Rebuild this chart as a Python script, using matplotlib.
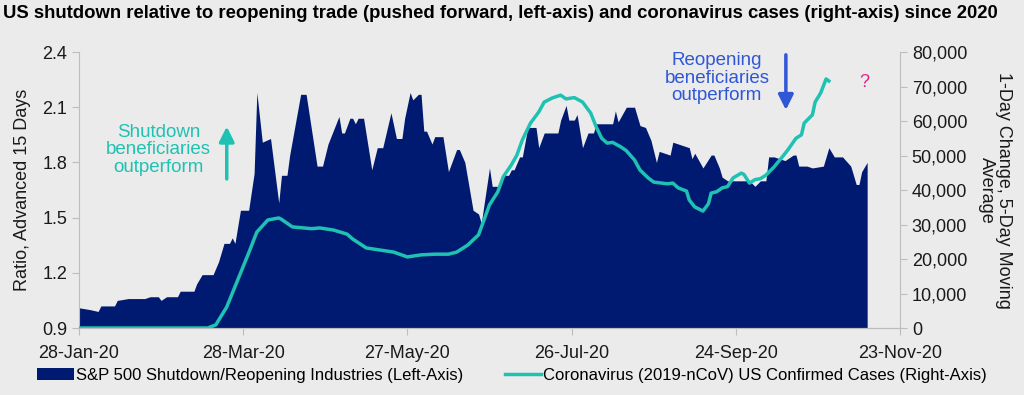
"""US shutdown vs reopening trade and coronavirus cases chart."""

import matplotlib
matplotlib.use("Agg")
import matplotlib.pyplot as plt
import matplotlib.ticker as mticker
import numpy as np
import pandas as pd

plt.rcParams["font.family"] = ["Liberation Sans", "DejaVu Sans"]

START = pd.Timestamp("2020-01-28")

# S&P 500 shutdown/reopening ratio (left axis), days since 28-Jan-20
ratio_day = [0, 4, 7, 8, 13, 14, 18, 24, 26, 29, 30, 32, 36, 37, 42, 43, 45, 49,
             51, 53, 55, 56, 57, 59, 62, 64, 65, 67, 70, 73, 74, 76, 77, 81, 83,
             87, 89, 91, 95, 96, 97, 99, 100, 101, 102, 104, 107, 109, 111, 114,
             116, 118, 119, 121, 122, 124, 125, 126, 127, 129, 130, 133, 135, 138,
             139, 141, 144, 146, 147, 150, 151, 153, 155, 157, 158, 159, 161, 162,
             164, 167, 168, 170, 175, 176, 178, 179, 181, 182, 184, 186, 188, 189,
             195, 196, 197, 200, 203, 205, 207, 209, 211, 212, 216, 217, 221, 223,
             224, 225, 228, 231, 232, 234, 235, 237, 245, 247, 249, 251, 252, 254,
             258, 261, 262, 263, 266, 268, 272, 274, 276, 279, 282, 284, 285, 286,
             288]
ratio_val = [1.01, 1.00, 0.99, 1.02, 1.02, 1.05, 1.06, 1.06, 1.07, 1.07, 1.05, 1.07,
             1.07, 1.10, 1.10, 1.14, 1.19, 1.19, 1.26, 1.36, 1.36, 1.39, 1.36, 1.54,
             1.54, 1.74, 2.18, 1.91, 1.93, 1.58, 1.73, 1.73, 1.84, 2.17, 2.17, 1.78,
             1.78, 1.90, 2.05, 1.96, 1.96, 2.04, 2.04, 2.01, 2.04, 2.04, 1.76, 1.88,
             1.88, 2.07, 1.93, 1.93, 2.04, 2.18, 2.14, 2.17, 2.17, 1.97, 1.97, 1.90,
             1.94, 1.94, 1.75, 1.87, 1.87, 1.80, 1.54, 1.52, 1.47, 1.77, 1.67, 1.67,
             1.73, 1.73, 1.76, 1.76, 1.83, 1.83, 1.99, 1.99, 1.88, 1.96, 1.96, 2.03,
             2.11, 2.03, 2.03, 2.06, 1.88, 1.96, 1.96, 2.01, 2.01, 2.08, 2.02, 2.10,
             2.10, 2.00, 1.99, 1.92, 1.80, 1.86, 1.84, 1.91, 1.89, 1.88, 1.82, 1.85,
             1.77, 1.84, 1.84, 1.77, 1.72, 1.70, 1.70, 1.67, 1.70, 1.70, 1.83, 1.83,
             1.81, 1.84, 1.84, 1.78, 1.78, 1.77, 1.78, 1.88, 1.83, 1.83, 1.78, 1.68,
             1.68, 1.75, 1.80]

# US confirmed cases, 1-day change 5-day average (right axis)
cases_day = [0, 47, 50, 54, 58, 62, 65, 69, 73, 74, 78, 85, 88, 93, 98, 100, 105,
             110, 115, 120, 125, 130, 135, 138, 142, 146, 148, 150, 153, 155, 158,
             160, 162, 165, 168, 170, 173, 176, 178, 181, 184, 187, 189, 191, 193,
             195, 198, 200, 203, 205, 208, 210, 215, 217, 219, 222, 223, 225, 228,
             230, 231, 233, 235, 237, 239, 242, 243, 245, 247, 249, 251, 254, 257,
             259, 262, 264, 265, 268, 269, 271, 273, 274]
cases_val = [0, 0, 900, 6100, 13900, 21700, 27800, 31300, 31900, 31500, 29300,
             28800, 29000, 28400, 27200, 25800, 23200, 22600, 22000, 20600, 21200,
             21400, 21400, 22000, 24000, 27000, 31300, 35700, 39400, 43800, 47300,
             50100, 54500, 59400, 62600, 65500, 66700, 67500, 66400, 66800, 65500,
             62300, 58300, 55000, 53600, 53800, 52500, 51400, 48700, 45800, 43500,
             42300, 41800, 42000, 40600, 39700, 37100, 35100, 33900, 36000, 39100,
             39500, 40600, 41000, 43500, 44900, 44500, 42000, 43000, 43300, 44300,
             46700, 49600, 51600, 55000, 56000, 59400, 61800, 65500, 68100, 72200,
             71600]

x_tick_days = [0, 60, 120, 180, 240, 300]

NAVY = "#001a72"
TEAL = "#1fc2b2"
BLUE = "#2f57d6"
BG = "#ebebeb"
GRAY = "#bdbdbd"

ratio_dates = START + pd.to_timedelta(ratio_day, unit="D")
cases_dates = START + pd.to_timedelta(cases_day, unit="D")
tick_dates = START + pd.to_timedelta(x_tick_days, unit="D")

fig = plt.figure(figsize=(10.24, 3.95), dpi=100, facecolor=BG)
ax = fig.add_axes([0.0771, 0.1696, 0.8018, 0.6987], facecolor=BG)
ax2 = ax.twinx()

ax.fill_between(ratio_dates, 0.9, ratio_val, color=NAVY, linewidth=0,
                label="S&P 500 Shutdown/Reopening Industries (Left-Axis)")
ax2.plot(cases_dates, cases_val, color=TEAL, linewidth=2.5,
         label="Coronavirus (2019-nCoV) US Confirmed Cases (Right-Axis)")

ax.set_xlim(tick_dates[0], tick_dates[-1])
ax.set_ylim(0.9, 2.4)
ax.set_yticks(np.arange(0.9, 2.41, 0.3))
ax.yaxis.set_major_formatter(mticker.FormatStrFormatter("%.1f"))
ax.set_xticks(tick_dates)
ax.set_xticklabels([d.strftime("%d-%b-%y") for d in tick_dates])

ax2.set_ylim(0, 80000)
ax2.set_yticks(range(0, 80001, 10000))
ax2.yaxis.set_major_formatter(mticker.FuncFormatter(lambda v, p: f"{int(v):,}"))

for a in (ax, ax2):
    a.spines["top"].set_visible(False)
    for s in ("left", "right", "bottom"):
        a.spines[s].set_color(GRAY)
    a.tick_params(colors=GRAY, labelcolor="#1a1a1a", labelsize=13, length=5)
ax.spines["right"].set_visible(False)
ax2.spines["left"].set_visible(False)
ax.tick_params(axis="x", pad=7)

ax.set_ylabel("Ratio, Advanced 15 Days", fontsize=13, color="#1a1a1a", labelpad=8)
ax2.set_ylabel("1-Day Change, 5-Day Moving\nAverage", fontsize=13, color="#1a1a1a",
               rotation=-90, labelpad=32, linespacing=1.0)

fig.text(0.003, 0.967, "US shutdown relative to reopening trade (pushed forward, left-axis) "
         "and coronavirus cases (right-axis) since 2020",
         fontsize=13.3, fontweight="bold", va="center", ha="left")

# annotations
ax.text(0.097, 0.645, "Shutdown\nbeneficiaries\noutperform", transform=ax.transAxes,
        ha="center", va="center", color=TEAL, fontsize=13.5, linespacing=1.05)
ax.annotate("", xy=(0.18, 0.74), xytext=(0.18, 0.53), xycoords="axes fraction",
            arrowprops=dict(arrowstyle="-|>,head_width=0.45,head_length=0.9",
                            color=TEAL, lw=2.5))
ax.text(0.777, 0.905, "Reopening\nbeneficiaries\noutperform", transform=ax.transAxes,
        ha="center", va="center", color=BLUE, fontsize=13.5, linespacing=1.05)
ax.annotate("", xy=(0.861, 0.78), xytext=(0.861, 1.0), xycoords="axes fraction",
            arrowprops=dict(arrowstyle="-|>,head_width=0.45,head_length=0.9",
                            color=BLUE, lw=2.5))
ax.text(0.957, 0.89, "?", transform=ax.transAxes, ha="center", va="center",
        color="#e5208e", fontsize=13)

h1, l1 = ax.get_legend_handles_labels()
h2, l2 = ax2.get_legend_handles_labels()
fig.legend(h1 + h2, l1 + l2, loc="center", bbox_to_anchor=(0.5, 0.05), ncol=2,
           frameon=False, fontsize=12, handlelength=2.2, handletextpad=0.1,
           columnspacing=2.5, borderaxespad=0)

fig.savefig("out.png", dpi=100, facecolor=BG)
